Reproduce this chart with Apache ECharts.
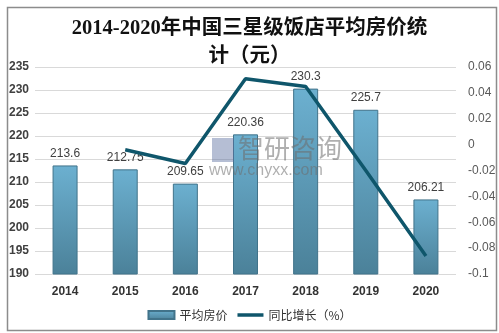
<!DOCTYPE html>
<html><head><meta charset="utf-8">
<script src="https://cdn.jsdelivr.net/npm/echarts@6/dist/echarts.min.js"></script>
<style>html,body{margin:0;padding:0;background:#fff}#c{width:499px;height:333px}</style>
</head><body><div id="c"></div>
<script>
var titleText = '2014-2020年中国三星级饭店平均房价统\n计（元）';
var years = ['2014','2015','2016','2017','2018','2019','2020'];
var avgPrice = [213.6, 212.75, 209.65, 220.36, 230.3, 225.7, 206.21];
var yoyGrowth = [null, -0.004, -0.0146, 0.051, 0.045, -0.020, -0.086];
var seriesNames = ['平均房价', '同比增长（%）'];
var watermark1 = '智研咨询';
var watermark2 = 'www.chyxx.com';

var chart = echarts.init(document.getElementById('c'), null, {renderer:'canvas'});
var barGrad = new echarts.graphic.LinearGradient(0,0,0,1,[
  {offset:0,color:'#6cb0d0'},{offset:1,color:'#4b8199'}]);
chart.setOption({
  animation:false,
  backgroundColor:'#fff',
  title:{text:titleText,left:'center',top:10,
    textStyle:{fontFamily:'Liberation Serif, "Noto Sans CJK SC"',fontSize:20.5,fontWeight:'bold',color:'#111',lineHeight:28}},
  graphic:[
    {type:'rect',left:5,top:5,shape:{width:489,height:323},style:{fill:'none',stroke:'#8c8c8c',lineWidth:1.5},silent:true,z:-1},
    {type:'text',left:238,top:135,style:{text:watermark1,font:'26px "Noto Sans CJK SC"',fill:'rgba(110,110,110,0.55)'},z:100},
    {type:'rect',left:212,top:138,shape:{width:22,height:24},style:{fill:'rgba(90,110,160,0.45)'},z:100},
    {type:'text',left:209,top:163,style:{text:watermark2,font:'16px "Liberation Sans"',fill:'rgba(110,110,110,0.55)'},z:100}
  ],
  legend:{left:'center',top:304,itemWidth:26,itemHeight:8,itemGap:10,
    textStyle:{fontSize:12,color:'#333',fontFamily:'"Noto Sans CJK SC"'},
    data:[{name:seriesNames[0],icon:'rect'},{name:seriesNames[1],icon:'path://M0,0 L26,0 L26,3.5 L0,3.5 Z'}]},
  grid:{left:35,right:43,top:67,bottom:59},
  xAxis:{type:'category',data:years,
    axisLine:{show:false},axisTick:{show:false},
    axisLabel:{fontSize:12,fontWeight:'bold',color:'#333',margin:12,fontFamily:'Liberation Sans'}},
  yAxis:[
    {type:'value',min:190,max:235,interval:5,position:'left',
     axisLine:{show:false},axisTick:{show:false},
     splitLine:{lineStyle:{color:'#d9d9d9',width:1}},
     axisLabel:{fontSize:12,color:'#404040',fontWeight:'bold',margin:6,fontFamily:'Liberation Sans',align:'right'}},
    {type:'value',min:-0.1,max:0.06,interval:0.02,position:'right',
     axisLine:{show:false},axisTick:{show:false},splitLine:{show:false},
     axisLabel:{fontSize:12,color:'#595959',margin:12,fontFamily:'Liberation Sans',align:'left',
       formatter:function(v){return String(+v.toFixed(2));}}}
  ],
  series:[
    {name:seriesNames[0],type:'bar',data:avgPrice,barWidth:25,yAxisIndex:0,
     itemStyle:{color:barGrad,borderColor:'#41738a',borderWidth:1},
     label:{show:true,position:'top',distance:6,fontSize:12,color:'#404040',fontFamily:'Liberation Sans'}},
    {name:seriesNames[1],type:'line',data:yoyGrowth,yAxisIndex:1,symbol:'none',
     lineStyle:{color:'#0f566b',width:3.5},itemStyle:{color:'#0f566b'},z:5}
  ]
});
</script></body></html>
